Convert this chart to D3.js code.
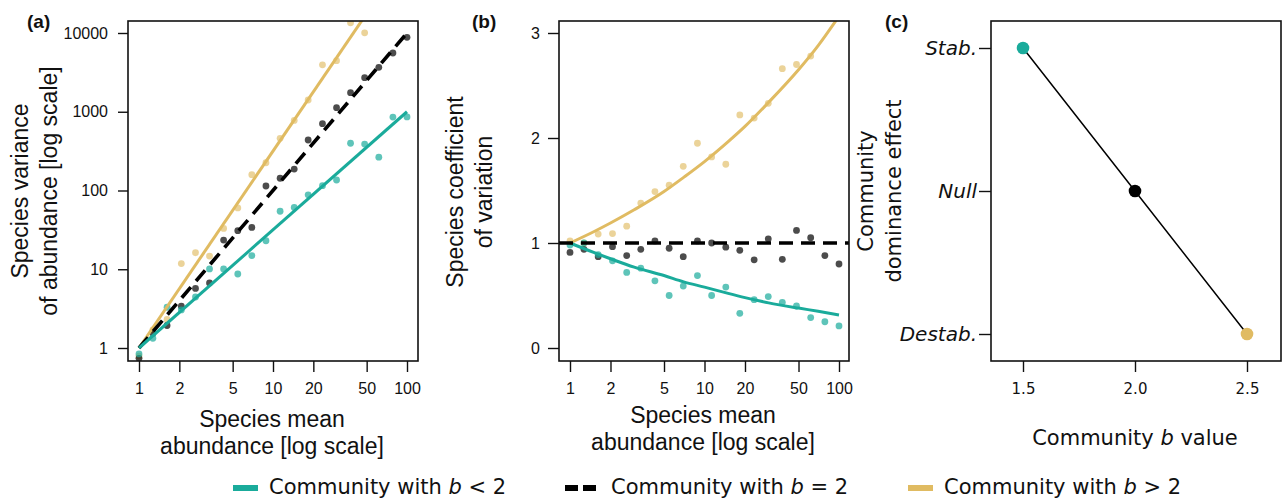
<!DOCTYPE html>
<html>
<head>
<meta charset="utf-8">
<script src="https://cdn.jsdelivr.net/npm/d3@7"></script>
<style>
  body { margin: 0; background: #fff; }
  svg text { white-space: pre; }
</style>
</head>
<body>
<div id="main"></div>
<script>
// species mean abundance (20 species, log spaced)
const meanAbundance = [1, 1.27, 1.62, 2.07, 2.64, 3.36, 4.28, 5.46, 6.95, 8.86,
  11.3, 14.4, 18.3, 23.4, 29.8, 37.9, 48.3, 61.6, 78.5, 100];

// (a) species variance
const varLow = [0.84, 1.33, 3.29, 3.04, 4.44, 10.1, 10.1, 8.7, 14.9, 23,
  54.5, 61, 88, 115, 136, 398, 389, 265, 855, 860];
const varNull = [0.74, 1.54, 1.93, 3.4, 5.7, 6.7, 23.5, 30.9, 34, 114,
  143, 187, 438, 705, 1127, 1746, 2710, 3670, 5570, 8810];
const varHigh = [0.79, 1.7, 2.3, 11.8, 16.2, 14.7, 33, 60, 159, 225,
  460, 775, 1410, 3940, 4450, 13500, 10050];

// (b) species coefficient of variation
const cvLow = [0.98, 1.0, 0.89, 0.83, 0.72, 0.76, 0.64, 0.5, 0.59, 0.69,
  0.5, 0.58, 0.33, 0.46, 0.49, 0.435, 0.4, 0.29, 0.25, 0.21];
const cvNull = [0.91, 0.94, 0.87, 0.965, 0.88, 0.94, 1.02, 0.95, 0.87, 1.02,
  1.0, 0.96, 0.93, 0.84, 1.04, 0.845, 1.12, 1.05, 0.88, 0.8];
const cvHigh = [1.02, 1.0, 1.085, 1.09, 1.16, 1.38, 1.49, 1.55, 1.73, 1.95,
  1.82, 1.75, 2.22, 2.19, 2.33, 2.66, 2.7, 2.78];

// fitted lines
const fitX = [1, 100];
const fitVarLow = [1, 1000];
const fitVarNull = [1, 10000];
const fitVarHigh = [1, 100000];
const curveX = [1, 1.5, 2, 3, 5, 7, 10, 15, 20, 30, 50, 70, 100];
const curveCvLow = [1, 0.91, 0.85, 0.77, 0.69, 0.63, 0.58, 0.52, 0.48, 0.43, 0.38, 0.35, 0.315];
const curveCvHigh = [1, 1.107, 1.19, 1.316, 1.49, 1.625, 1.775, 1.965, 2.11, 2.34, 2.65, 2.88, 3.16];
const cvNullLevel = 1;

// (c) community dominance effect
const bValues = [1.5, 2.0, 2.5];
const effectLabels = ["Stab.", "Null", "Destab."];
const bEffect = ["Stab.", "Null", "Destab."];

// ticks
const logTicksX = [1, 2, 5, 10, 20, 50, 100];
const logTicksY = [1, 10, 100, 1000, 10000];
const cvTicks = [0, 1, 2, 3];
const bTicks = [1.5, 2.0, 2.5];

const legendSigns = ["<", "=", ">"];

const col = { low: "#1aab9b", nul: "#000000", high: "#e0bb62" };
const helv = '"Liberation Sans", Arial, sans-serif';
const verd = '"DejaVu Sans", Verdana, sans-serif';

const svg = d3.select("#main").append("svg")
  .attr("width", 1283).attr("height", 500);

function panelBox(id, box) {
  svg.append("clipPath").attr("id", "clip-" + id)
    .append("rect")
    .attr("x", box.left).attr("y", box.top)
    .attr("width", box.right - box.left).attr("height", box.bottom - box.top);
  const g = svg.append("g");
  const data = g.append("g").attr("clip-path", `url(#clip-${id})`);
  g.append("rect")
    .attr("x", box.left).attr("y", box.top)
    .attr("width", box.right - box.left).attr("height", box.bottom - box.top)
    .attr("fill", "none").attr("stroke", "#111").attr("stroke-width", 1.6);
  return { g, data };
}

function styleAxis(sel, font, size, italic) {
  sel.select(".domain").remove();
  sel.selectAll(".tick line").attr("stroke", "#111").attr("stroke-width", 1.4);
  sel.selectAll(".tick text")
    .attr("fill", "#111")
    .style("font-family", font)
    .style("font-size", size + "px")
    .style("font-style", italic ? "italic" : "normal");
}

function vTitle(x, y, lines, font, size, step) {
  lines.forEach((t, i) => {
    svg.append("text")
      .attr("transform", `translate(${x + i * step},${y}) rotate(-90)`)
      .attr("text-anchor", "middle")
      .style("font-family", font).style("font-size", size + "px")
      .attr("fill", "#111")
      .text(t);
  });
}

function hTitle(x, y, lines, font, size, step) {
  lines.forEach((t, i) => {
    svg.append("text")
      .attr("x", x).attr("y", y + i * step)
      .attr("text-anchor", "middle")
      .style("font-family", font).style("font-size", size + "px")
      .attr("fill", "#111")
      .text(t);
  });
}

function panelLabel(x, t) {
  svg.append("text").attr("x", x).attr("y", 28)
    .style("font-family", helv).style("font-size", "19px").style("font-weight", "bold")
    .attr("fill", "#111").text(t);
}

function dots(g, xs, ys, x, y, fill, op) {
  g.selectAll(null)
    .data(ys.map((v, i) => ({ x: xs[i], y: v })))
    .join("circle")
    .attr("cx", d => x(d.x)).attr("cy", d => y(d.y))
    .attr("r", 3.4)
    .attr("fill", fill).attr("fill-opacity", op);
}

function fitLine(g, xs, ys, x, y, colour, dashed, curve) {
  const line = d3.line().x(d => x(d[0])).y(d => y(d[1]));
  if (curve) line.curve(d3.curveMonotoneX);
  g.append("path")
    .datum(xs.map((v, i) => [v, ys[i]]))
    .attr("d", line)
    .attr("fill", "none").attr("stroke", colour)
    .attr("stroke-width", dashed ? 3.6 : 3)
    .attr("stroke-dasharray", dashed ? "14,8" : null);
}

// ---------- panel (a)
const boxA = { left: 128, right: 418, top: 21, bottom: 361 };
const xA = d3.scaleLog().domain([1, 100]).range([139, 407]);
const yA = d3.scaleLog().domain([1, 10000]).range([348, 33]);
const pA = panelBox("a", boxA);

dots(pA.data, meanAbundance, varHigh, xA, yA, col.high, 0.65);
dots(pA.data, meanAbundance, varNull, xA, yA, col.nul, 0.7);
dots(pA.data, meanAbundance, varLow, xA, yA, col.low, 0.7);
fitLine(pA.data, fitX, fitVarHigh, xA, yA, col.high, false);
fitLine(pA.data, fitX, fitVarNull, xA, yA, col.nul, true);
fitLine(pA.data, fitX, fitVarLow, xA, yA, col.low, false);

svg.append("g").attr("transform", `translate(${boxA.left},0)`)
  .call(d3.axisLeft(yA).tickValues(logTicksY).tickFormat(d3.format("d")).tickSize(10).tickPadding(10))
  .call(s => styleAxis(s, helv, 16));
svg.append("g").attr("transform", `translate(0,${boxA.bottom})`)
  .call(d3.axisBottom(xA).tickValues(logTicksX).tickFormat(d3.format("d")).tickSize(11).tickPadding(11))
  .call(s => styleAxis(s, helv, 16));

vTitle(28, 191, ["Species variance", "of abundance [log scale]"], helv, 23, 29);
hTitle(272, 427, ["Species mean", "abundance [log scale]"], helv, 23, 27);
panelLabel(27, "(a)");

// ---------- panel (b)
const boxB = { left: 559, right: 849, top: 21, bottom: 361 };
const xB = d3.scaleLog().domain([1, 100]).range([570, 839]);
const yB = d3.scaleLinear().domain([0, 3]).range([348, 33]);
const pB = panelBox("b", boxB);

dots(pB.data, meanAbundance, cvHigh, xB, yB, col.high, 0.65);
dots(pB.data, meanAbundance, cvNull, xB, yB, col.nul, 0.7);
dots(pB.data, meanAbundance, cvLow, xB, yB, col.low, 0.7);
fitLine(pB.data, curveX, curveCvHigh, xB, yB, col.high, false, true);
fitLine(pB.data, curveX, curveCvLow, xB, yB, col.low, false, true);
pB.data.append("line")
  .attr("x1", boxB.left).attr("x2", boxB.right)
  .attr("y1", yB(cvNullLevel)).attr("y2", yB(cvNullLevel))
  .attr("stroke", col.nul).attr("stroke-width", 3.6).attr("stroke-dasharray", "14,8");

svg.append("g").attr("transform", `translate(${boxB.left},0)`)
  .call(d3.axisLeft(yB).tickValues(cvTicks).tickFormat(d3.format("d")).tickSize(11).tickPadding(8))
  .call(s => styleAxis(s, helv, 16));
svg.append("g").attr("transform", `translate(0,${boxB.bottom})`)
  .call(d3.axisBottom(xB).tickValues(logTicksX).tickFormat(d3.format("d")).tickSize(11).tickPadding(11))
  .call(s => styleAxis(s, helv, 16));

vTitle(463, 192, ["Species coefficient", "of variation"], helv, 23, 29);
hTitle(703, 423, ["Species mean", "abundance [log scale]"], helv, 23, 27);
panelLabel(472, "(b)");

// ---------- panel (c)
const boxC = { left: 991, right: 1281, top: 21, bottom: 361 };
const xC = d3.scaleLinear().domain([1.5, 2.5]).range([1023, 1247]);
const yC = d3.scalePoint().domain(effectLabels).range([48, 334]);
const pC = panelBox("c", boxC);

const effData = bValues.map((b, i) => ({ b, e: bEffect[i] }));
pC.data.append("path")
  .datum(effData)
  .attr("d", d3.line().x(d => xC(d.b)).y(d => yC(d.e)))
  .attr("fill", "none").attr("stroke", "#000").attr("stroke-width", 1.5);
pC.data.selectAll(null)
  .data(effData)
  .join("circle")
  .attr("cx", d => xC(d.b)).attr("cy", d => yC(d.e))
  .attr("r", 6.3)
  .attr("fill", (d, i) => [col.low, col.nul, col.high][i]);

svg.append("g").attr("transform", `translate(${boxC.left},0)`)
  .call(d3.axisLeft(yC).tickSize(12).tickPadding(2))
  .call(s => styleAxis(s, verd, 20, true));
svg.append("g").attr("transform", `translate(0,${boxC.bottom})`)
  .call(d3.axisBottom(xC).tickValues(bTicks).tickFormat(d3.format(".1f")).tickSize(11).tickPadding(11))
  .call(s => styleAxis(s, verd, 15));

vTitle(873, 191, ["Community", "dominance effect"], verd, 21, 28);
const tC = svg.append("text").attr("x", 1135).attr("y", 445)
  .attr("text-anchor", "middle")
  .style("font-family", verd).style("font-size", "21px").attr("fill", "#111");
tC.append("tspan").text("Community ");
tC.append("tspan").style("font-style", "italic").text("b");
tC.append("tspan").text(" value");
panelLabel(885, "(c)");

// ---------- legend
const legendItems = [
  { sign: legendSigns[0], colour: col.low, x: 233, len: 25, dash: null },
  { sign: legendSigns[1], colour: col.nul, x: 565, len: 31, dash: "13,5" },
  { sign: legendSigns[2], colour: col.high, x: 908, len: 25, dash: null }
];
const leg = svg.append("g");
legendItems.forEach(it => {
  leg.append("line")
    .attr("x1", it.x).attr("x2", it.x + it.len)
    .attr("y1", 488).attr("y2", 488)
    .attr("stroke", it.colour).attr("stroke-width", 6)
    .attr("stroke-dasharray", it.dash);
  const t = leg.append("text").attr("x", it.x + (it.dash ? 46 : 36)).attr("y", 494)
    .style("font-family", verd).style("font-size", "21px").attr("fill", "#111");
  t.append("tspan").text("Community with ");
  t.append("tspan").style("font-style", "italic").text("b");
  t.append("tspan").text(` ${it.sign} 2`);
});
</script>
</body>
</html>
